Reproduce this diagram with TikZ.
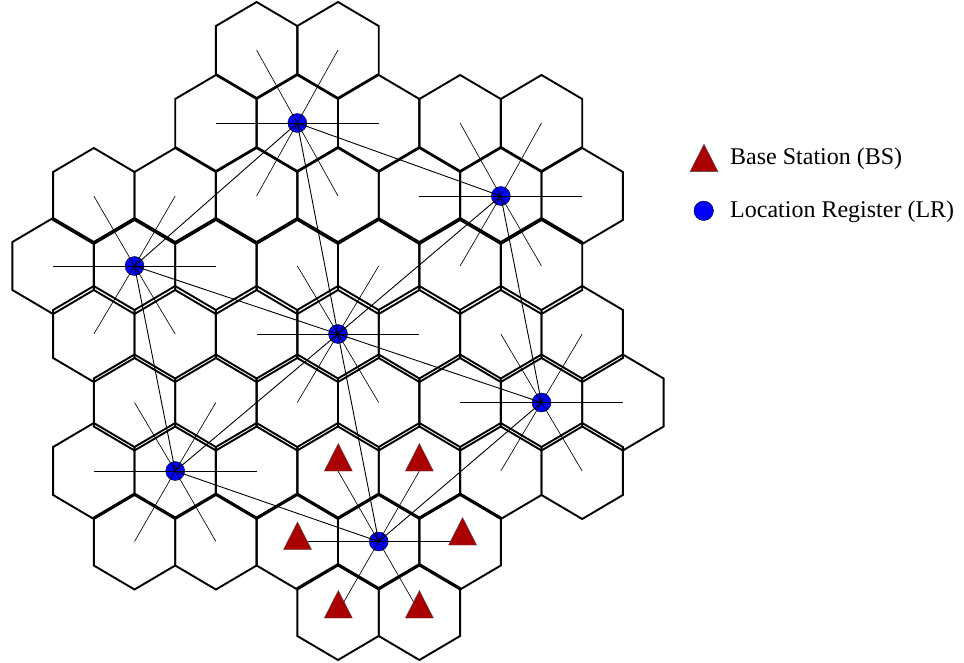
\documentclass[tikz,border=0pt]{standalone}
\usepackage{fontspec}
\setmainfont{Liberation Serif}
\definecolor{bsred}{RGB}{170,0,0}
\definecolor{lrblue}{RGB}{0,0,255}
\newcommand\hexcell[2]{\draw[hexline] (#1,#2) ++(0,-48) -- ++(40.7,24) -- ++(0,48) -- ++(-40.7,24) -- ++(-40.7,-24) -- ++(0,-48) -- cycle;}
% name, X, y(row above), y(row), y(row below)
\newcommand\mkcluster[5]{%
  \hexcell{#2}{#4}
  \hexcell{#2+81.4}{#4}
  \hexcell{#2-81.4}{#4}
  \hexcell{#2+40.7}{#3}
  \hexcell{#2-40.7}{#3}
  \hexcell{#2+40.7}{#5}
  \hexcell{#2-40.7}{#5}
  \coordinate (#1-e) at (#2+81.4,#4);
  \coordinate (#1-w) at (#2-81.4,#4);
  \coordinate (#1-ne) at (#2+40.7,#3);
  \coordinate (#1-nw) at (#2-40.7,#3);
  \coordinate (#1-se) at (#2+40.7,#5);
  \coordinate (#1-sw) at (#2-40.7,#5);
  \coordinate (#1-c) at (#2,#4);
}
\newcommand\spokes[1]{\foreach \d in {e,w,ne,nw,se,sw}{\draw[spoke] (#1.center) -- (#1-\d);}}
\newcommand\bstri[1]{\filldraw[bsshape] (#1) ++(-14,0) -- ++(28,0) -- ++(-14,-27.5) -- cycle;}
\begin{document}
\begin{tikzpicture}[x=1pt,y=-1pt,
  hexline/.style={line width=1.9pt,line join=miter},
  spoke/.style={line width=0.65pt},
  link/.style={line width=0.9pt},
  lr/.style={circle,draw=black,line width=0.4pt,fill=lrblue,minimum size=19pt,inner sep=0pt},
  bsshape/.style={fill=bsred,draw=black!70,line width=0.4pt,line join=miter},
  legend/.style={anchor=base west,inner sep=0pt,font=\fontsize{24}{28}\selectfont}]
\fill[white] (0,0) rectangle (964,663);
\useasboundingbox (0,0) rectangle (964,663);
% cells, cluster by cluster
\mkcluster{A}{297.3}{50}{123}{196}
\mkcluster{B}{500.8}{123}{196}{266}
\mkcluster{C}{134.5}{196}{266}{334}
\mkcluster{D}{338}{266}{334}{402.5}
\mkcluster{E}{541.5}{334}{402.5}{471}
\mkcluster{F}{175.2}{402.5}{471}{541.5}
\mkcluster{G}{378.7}{471}{541.5}{612}
% location registers
\foreach \n in {A,B,C,D,E,F,G}{\node[lr] (\n) at (\n-c) {};}
% spokes to base stations
\foreach \n in {A,B,C,D,E,F,G}{\spokes{\n}}
% links between location registers
\foreach \n in {A,B,C,E,F,G}{\draw[link] (D.center) -- (\n.center);}
\draw[link] (A.center) -- (B.center);
\draw[link] (B.center) -- (E.center);
\draw[link] (E.center) -- (G.center);
\draw[link] (G.center) -- (F.center);
\draw[link] (F.center) -- (C.center);
\draw[link] (C.center) -- (A.center);
% base stations of the bottom cluster
\coordinate (bs1) at (338.3,471);
\coordinate (bs2) at (419.4,471);
\coordinate (bs3) at (297.5,549.5);
\coordinate (bs4) at (462.6,545);
\coordinate (bs5) at (338.3,618);
\coordinate (bs6) at (419.4,618);
\foreach \b in {bs1,bs2,bs3,bs4,bs5,bs6}{\bstri{\b}}
% legend
\coordinate (legbs) at (704,171.7);
\bstri{legbs}
\node[lr,minimum size=19.5pt] (leglr) at (703.7,210.8) {};
\node[legend] (legbstext) at (730,165) {Base Station (BS)};
\node[legend] (leglrtext) at (730,218) {Location Register (LR)};
\end{tikzpicture}
\end{document}
